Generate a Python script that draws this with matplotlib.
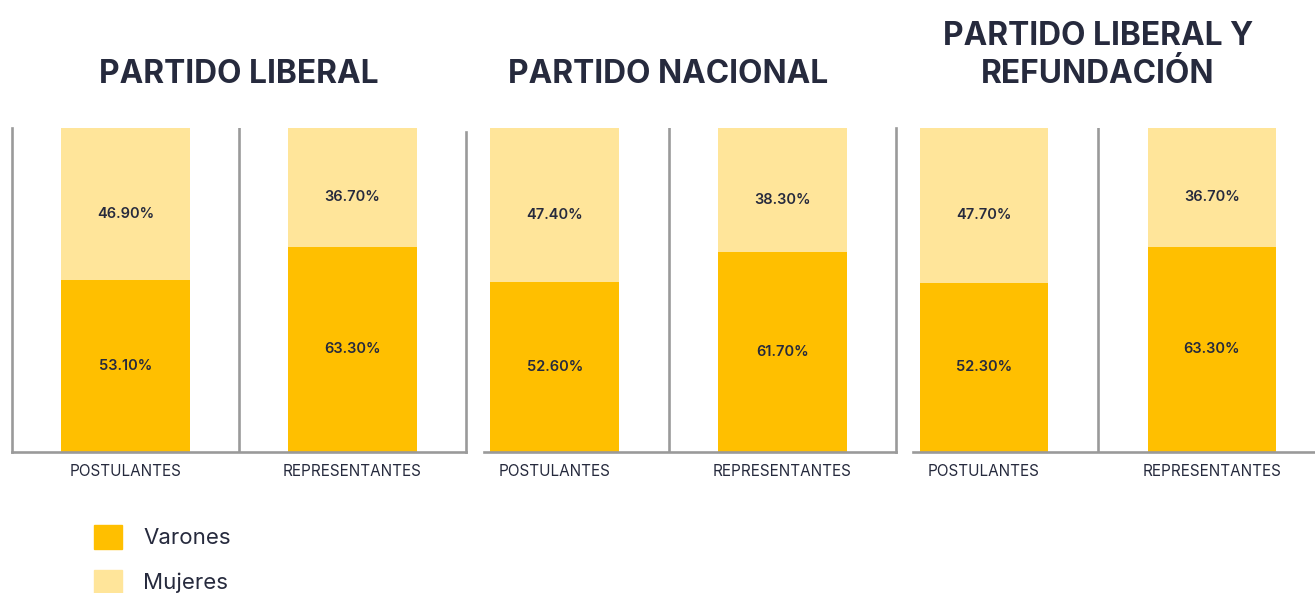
import matplotlib
matplotlib.use('Agg')
import matplotlib.pyplot as plt
from matplotlib.patches import Patch

# data
parties = ['PARTIDO LIBERAL', 'PARTIDO NACIONAL', 'PARTIDO LIBERAL Y\nREFUNDACIÓN']
groups = ['POSTULANTES', 'REPRESENTANTES']
varones = [[53.1, 63.3], [52.6, 61.7], [52.3, 63.3]]
mujeres = [[46.9, 36.7], [47.4, 38.3], [47.7, 36.7]]

c_var = '#FFBF00'
c_muj = '#FFE59A'
c_text = '#262a3d'
c_grid = '#9a9a9a'

plt.rcParams['font.family'] = ['Inter', 'DejaVu Sans']

fig = plt.figure(figsize=(13.15, 5.93), dpi=100)

# axes boxes in figure pixels: (left, width)
W, H = 1315, 593
boxes = [(12, 454), (441, 455), (870, 456)]
bottom_px, top_px = 452, 128

for i, (party, (lx, w)) in enumerate(zip(parties, boxes)):
    ax = fig.add_axes([lx / W, 1 - bottom_px / H, w / W, (bottom_px - top_px) / H])
    x = range(len(groups))
    ax.bar(x, varones[i], width=0.565, color=c_var, zorder=2)
    ax.bar(x, mujeres[i], width=0.565, bottom=varones[i], color=c_muj, zorder=2)
    for xi, v, m in zip(x, varones[i], mujeres[i]):
        ax.text(xi, v / 2, f'{v:.2f}%', ha='center', va='center', fontsize=10.5,
                fontweight='semibold', color=c_text)
        ax.text(xi, v + m / 2 - 3, f'{m:.2f}%', ha='center', va='center', fontsize=10.5,
                fontweight='semibold', color=c_text)
    ax.set_xlim(-0.5, 1.5)
    ax.set_ylim(0, 100)
    ax.axvline(0.5, color=c_grid, linewidth=1.9, zorder=1)
    ax.set_yticks([])
    ax.set_xticks(list(x))
    ax.set_xticklabels(groups, fontsize=11, color=c_text)
    ax.tick_params(axis='x', length=0, pad=9)
    for s in ax.spines.values():
        s.set_color(c_grid)
        s.set_linewidth(1.9)
    ax.spines['top'].set_visible(False)
    if i > 0:
        ax.spines['left'].set_visible(False)
        ax.spines['bottom'].set_bounds(-0.31, 1.5)
    if i == 0:
        ax.spines['right'].set_bounds(0, 98.8)
    if i == 2:
        ax.spines['right'].set_visible(False)
    ax.patch.set_alpha(0)
    ax.text(0.5, 1 + 45 / 324, party, transform=ax.transAxes,
            ha='center', va='baseline', fontsize=22.8, fontweight='bold', color=c_text,
            linespacing=1.3)

handles = [Patch(color=c_var, label='Varones'), Patch(color=c_muj, label='Mujeres')]
fig.legend(handles=handles, loc='upper left', bbox_to_anchor=(94 / W, 1 - 525 / H),
           frameon=False, fontsize=16, handlelength=1.26, handleheight=1.26,
           handletextpad=0.95, labelspacing=0.95, borderpad=0, borderaxespad=0,
           labelcolor=c_text)

fig.savefig('out.png', dpi=100)
